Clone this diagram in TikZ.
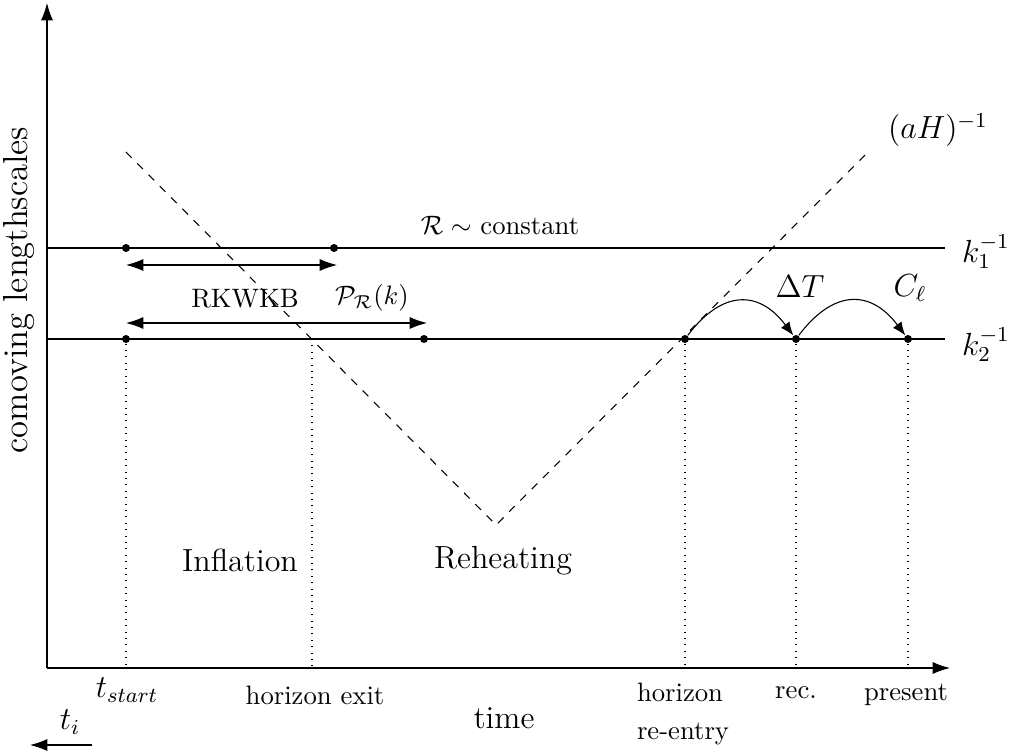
\documentclass[tikz,border=0pt]{standalone}
\usetikzlibrary{arrows.meta}
\begin{document}
\begin{tikzpicture}[x=0.375pt,y=-0.375pt,
  dot/.style={circle,fill,inner sep=0pt,minimum size=3pt},
  arr/.style={-{Latex[length=6.5pt,width=4.5pt]}},
  darr/.style={{Latex[length=6.5pt,width=4.5pt]}-{Latex[length=6.5pt,width=4.5pt]}},
  carr/.style={-{Latex[length=5pt,width=4pt]}},
  horizon/.style={dashed},
  guide/.style={dotted}]
\useasboundingbox (0,0) rectangle (1015,753);
% axes
\coordinate (O) at (47,668);
\coordinate (ytip) at (47,3);
\coordinate (xtip) at (950,668);
\draw[arr] (O) -- (ytip);
\draw[arr] (O) -- (xtip);
% scale lines
\coordinate (k1L) at (47,248);
\coordinate (k1R) at (945,248);
\coordinate (k2L) at (47,339);
\coordinate (k2R) at (945,339);
\draw (k1L) -- (k1R);
\draw (k2L) -- (k2R);
\node (k1) at (986,252) {\large $k_1^{-1}$};
\node (k2) at (986,345) {\large $k_2^{-1}$};
% Hubble radius
\coordinate (h1) at (126,152);
\coordinate (hv) at (496,525);
\coordinate (h2) at (870,150);
\draw[horizon] (h1) -- (hv) -- (h2);
\node (aH) at (938,130) {\large $(aH)^{-1}$};
% dots
\node[dot] (a1) at (126,248) {};
\node[dot] (b1) at (334,248) {};
\node[dot] (a2) at (126,339) {};
\node[dot] (b2) at (424,339) {};
\node[dot] (re) at (685,339) {};
\node[dot] (rc) at (796,339) {};
\node[dot] (pr) at (908,339) {};
% dotted guides
\coordinate (hx) at (312,339);
\coordinate (a2b) at (126,668);
\coordinate (hxb) at (312,668);
\coordinate (reb) at (685,668);
\coordinate (rcb) at (796,668);
\coordinate (prb) at (908,668);
\draw[guide] (a2) -- (a2b);
\draw[guide] (hx) -- (hxb);
\draw[guide] (re) -- (reb);
\draw[guide] (rc) -- (rcb);
\draw[guide] (pr) -- (prb);
% double arrows
\coordinate (d1l) at (126,265);
\coordinate (d1r) at (337,265);
\coordinate (d2l) at (126,323);
\coordinate (d2r) at (427,323);
\draw[darr] (d1l) -- (d1r);
\draw[darr] (d2l) -- (d2r);
% curved arrows
\draw[carr] (re) to[out=53,in=127,looseness=1.39] (rc);
\draw[carr] (rc) to[out=53,in=127,looseness=1.39] (pr);
% labels
\node (Rc) at (500,226) {$\mathcal{R}\sim$ constant};
\node (rk) at (245,299) {RKWKB};
\node (PR) at (372,298) {$\mathcal{P}_{\mathcal{R}}(k)$};
\node (dT) at (800,287) {\large $\Delta T$};
\node (Cl) at (910,288) {\large $C_\ell$};
\node (inf) at (240,560) {\large Inflation};
\node (reh) at (503,561) {\large Reheating};
\node[rotate=90] (ylab) at (19,290) {\fontsize{13}{16}\selectfont comoving lengthscales};
\node (ts) at (127,690) {\large $t_{start}$};
\node (hex) at (315,695) {horizon exit};
\node (time) at (504,718) {\large time};
\node[align=left] (hre) at (683,714) {horizon\\[2pt]re-entry};
\node (rec) at (796,693) {rec.};
\node (pres) at (906,695) {present};
\node (ti) at (70,722) {\large $t_i$};
\coordinate (ti1) at (92,745);
\coordinate (ti2) at (30,745);
\draw[arr] (ti1) -- (ti2);
\end{tikzpicture}
\end{document}
